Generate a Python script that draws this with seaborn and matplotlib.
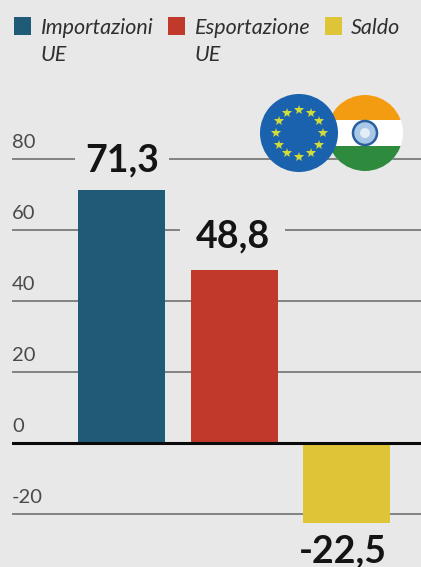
import math

import matplotlib
matplotlib.use("Agg")
import matplotlib.pyplot as plt
import pandas as pd
import seaborn as sns
from matplotlib.lines import Line2D
from matplotlib.patches import Circle, Rectangle
from matplotlib.transforms import Affine2D, ScaledTranslation

# Interscambio UE-India, miliardi di euro
categories = ["Importazioni UE", "Esportazione UE", "Saldo"]
legend_labels = ["Importazioni\nUE", "Esportazione\nUE", "Saldo"]
values = [71.3, 48.8, -22.5]
colors = ["#1f5a76", "#c0392b", "#e0c437"]
y_ticks = [-20, 0, 20, 40, 60, 80]

BG = "#e8e8e8"
W, H = 421, 567

sns.set_theme(style="white")
plt.rcParams["font.family"] = ["Lato", "DejaVu Sans"]

fig = plt.figure(figsize=(W / 100, H / 100), dpi=100, facecolor=BG)
ax = fig.add_axes([12 / W, 0, 1 - 12 / W, 1 - 100 / H], facecolor="none")

df = pd.DataFrame({"voce": categories, "valore": values})
sns.barplot(data=df, x="voce", y="valore", hue="voce", palette=colors,
            width=0.77, legend=False, saturation=1, ax=ax, zorder=3,
            edgecolor="none", linewidth=0)

ax.set_xlim(-0.965, 2.655)
ax.set_ylim(-34.9, 96.6)
ax.set_xticks([])
ax.set_xlabel("")
ax.set_ylabel("")
sns.despine(ax=ax, left=True, bottom=True)

# Griglia orizzontale ed etichette appoggiate sopra le linee
ax.set_yticks(y_ticks)
ax.set_yticklabels([str(t) for t in y_ticks])
ax.yaxis.grid(True, color="#707070", linewidth=1.2, zorder=1)
ax.set_axisbelow(True)
ax.tick_params(axis="y", length=0, pad=0, labelsize=14.5, labelcolor="#4a4a4a")
lift = ScaledTranslation(0, 8 / 100, fig.dpi_scale_trans)
for lab in ax.get_yticklabels():
    lab.set_horizontalalignment("left")
    lab.set_verticalalignment("bottom")
    lab.set_transform(lab.get_transform() + lift)
ax.axhline(0, color="#0a0a0a", linewidth=2.2, zorder=4)

# Valori sopra le barre, con il fondo che interrompe la griglia
offsets = [(1, 9), (-1, 12), (-3, -8)]
pads = [0.27, 0.4, 0.05]
for i, (val, off, pad) in enumerate(zip(values, offsets, pads)):
    txt = f"{val:.1f}".replace(".", ",")
    ax.annotate(txt, (i, val), xytext=off, textcoords="offset points",
                ha="center", va="bottom" if val > 0 else "top",
                fontsize=27, fontweight="bold", color="#141414", zorder=5,
                bbox=dict(boxstyle=f"square,pad={pad}", fc=BG, ec="none"))

# Coordinate in pixel, origine in alto a sinistra
px = Affine2D().scale(1, -1).translate(0, H)

# Legenda
squares = [14, 168, 325]
label_x = [41, 195, 351]
for sx, lx, c, lab in zip(squares, label_x, colors, legend_labels):
    fig.add_artist(Rectangle((sx, 17), 17, 18, transform=px, fc=c, ec="none"))
    fig.text(lx / W, 1 - 18 / H, lab, ha="left", va="top", fontsize=15.5,
             style="italic", color="#2f2f2f", linespacing=1.42)

# Bandiera indiana
cx, cy, r = 365, 133, 38
disc = Circle((cx, cy), r, transform=px, fc="white", ec="none", zorder=6)
fig.add_artist(disc)
for top, height, col in [(cy - r, 25, "#f39c12"), (cy + 13, 25, "#2e8b3d")]:
    band = Rectangle((cx - r, top), 2 * r, height, transform=px, fc=col, ec="none", zorder=7)
    fig.add_artist(band)
    band.set_clip_path(disc)
fig.add_artist(Circle((cx, cy), 12, transform=px, fc="#a9c8e8", ec="#2a5f9e",
                      linewidth=1.8, zorder=8))
fig.add_artist(Circle((cx, cy), 5, transform=px, fc="#e4edf5", ec="none", zorder=8))

# Bandiera europea
ex, ey, er = 299, 133, 39
fig.add_artist(Circle((ex, ey), er, transform=px, fc="#1a62ad", ec="none", zorder=9))
for k in range(12):
    a = math.radians(30 * k)
    fig.add_artist(Line2D([ex + 23.5 * math.cos(a)], [ey + 23.5 * math.sin(a)], transform=px,
                          marker="*", markersize=7.5, color="#cfdc3c",
                          markeredgewidth=0, linestyle="none", zorder=10))

fig.savefig("out.png", dpi=100, facecolor=BG)
